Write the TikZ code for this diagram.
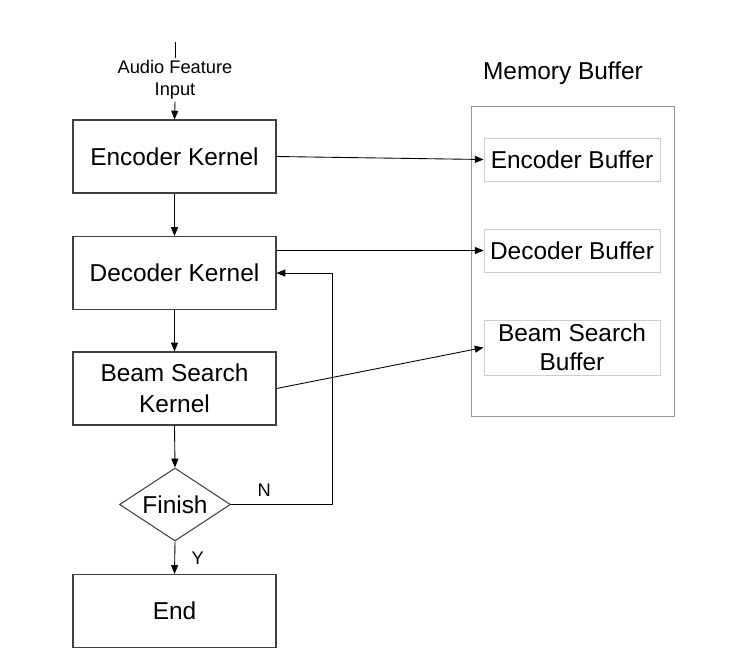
\documentclass[tikz,border=0pt]{standalone}
\usepackage{fontspec}
\setmainfont{Liberation Sans}
\usetikzlibrary{positioning,arrows.meta,shapes.geometric}
\definecolor{boxgray}{RGB}{64,64,64}
\definecolor{memgray}{RGB}{150,150,150}
\definecolor{bufgray}{RGB}{205,205,205}

\begin{document}
\begin{tikzpicture}[x=0.02cm,y=-0.02cm,
    kernel/.style={draw=boxgray,line width=0.6pt,minimum width=4.06cm,minimum height=1.46cm,inner sep=0pt,font=\fontsize{13.9}{16}\selectfont},
    buffer/.style={draw=bufgray,line width=0.5pt,minimum width=3.52cm,inner sep=0pt,align=center,font=\fontsize{13.9}{16.5}\selectfont},
    arr/.style={-{Triangle[length=5pt,width=4pt]},line width=0.5pt}]
    \useasboundingbox (0,0) rectangle (735,657);
    % flow on the left
    \coordinate (top) at (175,42);
    \node[align=center,inner sep=1pt,font=\fontsize{10.4}{12.5}\selectfont] (input) at (175,80) {Audio Feature\\Input};
    \node[kernel] (enc) at (174.5,156.5) {Encoder Kernel};
    \node[kernel] (dec) at (174.5,273) {Decoder Kernel};
    \node[kernel,align=center,font=\fontsize{13.9}{17.5}\selectfont] (beam) at (174.5,388.5) {Beam Search\\Kernel};
    \node[diamond,aspect=1.52,draw=boxgray,line width=0.6pt,minimum width=2.22cm,minimum height=1.46cm,inner sep=0pt,font=\fontsize{13.9}{16}\selectfont] (fin) at (175,504.5) {Finish};
    \node[kernel] (end) at (174.5,611) {End};
    \coordinate (loop) at (332,504.5);
    % memory side
    \node[draw=memgray,line width=0.5pt,minimum width=4.06cm,minimum height=6.2cm] (mem) at (572.5,261) {};
    \node[font=\fontsize{13.9}{16}\selectfont] (memtitle) at (563,73) {Memory Buffer};
    \node[buffer,minimum height=0.86cm] (ebuf) at (572,159.5) {Encoder Buffer};
    \node[buffer,minimum height=0.86cm] (dbuf) at (572,250.5) {Decoder Buffer};
    \node[buffer,minimum height=1.1cm] (bbuf) at (572,347.5) {Beam Search\\Buffer};
    % connectors
    \draw[line width=0.5pt] (top) -- (input.north);
    \draw[arr] (input.south) -- (enc.north);
    \draw[arr] (enc.south) -- (dec.north);
    \draw[arr] (dec.south) -- (beam.north);
    \draw[arr] (beam.south) -- (fin.north);
    \draw[arr] (fin.south) -- node[right=6pt,font=\fontsize{10.4}{12}\selectfont]{Y} (end.north);
    \draw[arr] (fin.east) -- node[above=1pt,pos=0.33,font=\fontsize{10.4}{12}\selectfont]{N} (loop) |- (dec.east);
    \draw[arr] (enc.east) -- (ebuf.west);
    \draw[arr] (dbuf.west -| dec.east) -- (dbuf.west);
    \draw[arr] (beam.east) -- (bbuf.west);
\end{tikzpicture}
\end{document}
